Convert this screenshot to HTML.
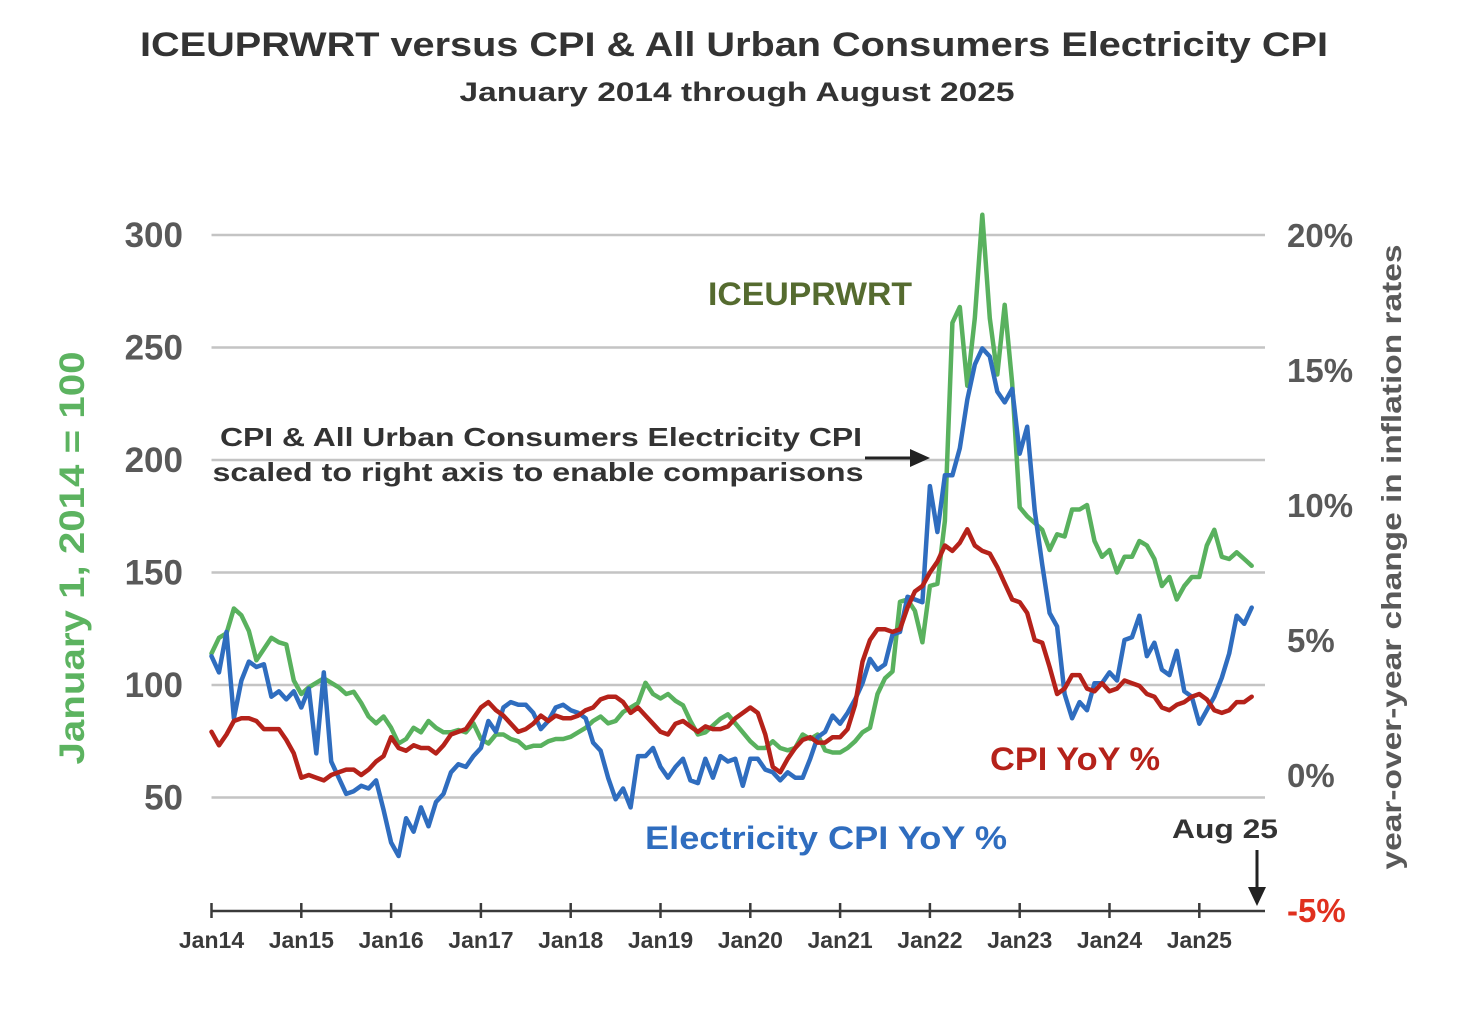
<!DOCTYPE html>
<html><head><meta charset="utf-8"><style>
html,body{margin:0;padding:0;background:#fff;}
svg{display:block;font-family:"Liberation Sans",sans-serif;}
</style></head><body>
<svg id="chart" width="1458" height="1036" viewBox="0 0 1458 1036" xmlns="http://www.w3.org/2000/svg">
<text x="734" y="56" text-anchor="middle" font-size="34" font-weight="bold" fill="#333" textLength="1188" lengthAdjust="spacingAndGlyphs">ICEUPRWRT versus CPI &amp; All Urban Consumers Electricity CPI</text>
<text x="737" y="101" text-anchor="middle" font-size="27" font-weight="bold" fill="#333" textLength="555" lengthAdjust="spacingAndGlyphs">January 2014  through August 2025</text>
<g id="grid"></g>
<g id="lticks"></g>
<g id="rticks"></g>
<g id="xaxis"></g>
<g id="series"></g>
<text transform="translate(84,558) rotate(-90)" text-anchor="middle" font-size="35" font-weight="bold" fill="#5cb360" textLength="413" lengthAdjust="spacingAndGlyphs">January 1, 2014 = 100</text>
<text transform="translate(1401,557) rotate(-90)" text-anchor="middle" font-size="28" font-weight="bold" fill="#595959" textLength="625" lengthAdjust="spacingAndGlyphs">year-over-year change in inflation rates</text>
<text x="810" y="305" text-anchor="middle" font-size="32" font-weight="bold" fill="#556b2f" textLength="204" lengthAdjust="spacingAndGlyphs">ICEUPRWRT</text>
<text x="1075" y="770" text-anchor="middle" font-size="32" font-weight="bold" fill="#b5221a" textLength="170" lengthAdjust="spacingAndGlyphs">CPI YoY %</text>
<text x="826" y="849" text-anchor="middle" font-size="32" font-weight="bold" fill="#2f6dbf" textLength="362" lengthAdjust="spacingAndGlyphs">Electricity CPI YoY %</text>
<text x="541" y="446" text-anchor="middle" font-size="26" font-weight="bold" fill="#333" textLength="642" lengthAdjust="spacingAndGlyphs">CPI &amp; All Urban Consumers Electricity CPI</text>
<text x="538" y="481" text-anchor="middle" font-size="26" font-weight="bold" fill="#333" textLength="651" lengthAdjust="spacingAndGlyphs">scaled to right axis to enable comparisons</text>
<g><line x1="865" y1="458" x2="912" y2="458" stroke="#222" stroke-width="3"/><polygon points="910,449 930,458 910,467" fill="#222"/></g>
<text x="1225" y="838" text-anchor="middle" font-size="27" font-weight="bold" fill="#333" textLength="106" lengthAdjust="spacingAndGlyphs">Aug 25</text>
<g><line x1="1257" y1="850" x2="1257" y2="890" stroke="#222" stroke-width="3"/><polygon points="1248,887 1266,887 1257,906" fill="#222"/></g>
</svg>
<script>
const leftTicks=[300,250,200,150,100,50];
const rightTicks=["20%","15%","10%","5%","0%","-5%"];
const rightTickVals=[20,15,10,5,0,-5];
const xLabels=["Jan14","Jan15","Jan16","Jan17","Jan18","Jan19","Jan20","Jan21","Jan22","Jan23","Jan24","Jan25"];
const iceValues=[114,121,123,134,131,124,111,116,121,119,118,102,
96,99,101,103,101,99,96,97,92,86,83,86,
81,74,76,81,79,84,81,79,79,80,79,83,
76,74,78,78,76,75,72,73,73,75,76,76,
77,79,81,84,86,83,84,88,90,92,101,96,
94,96,93,91,84,78,79,82,85,87,83,79,
75,72,72,75,72,71,72,78,76,78,71,70,
70,72,75,79,81,96,103,106,137,138,133,119,
144,145,173,261,268,233,263,309,263,238,269,234,
179,175,172,169,160,167,166,178,178,180,164,157,
160,150,157,157,164,162,156,144,148,138,144,148,
148,162,169,157,156,159,156,153];
const cpiYoY=[1.6,1.1,1.5,2.0,2.1,2.1,2.0,1.7,1.7,1.7,1.3,0.8,
-0.1,0.0,-0.1,-0.2,0.0,0.1,0.2,0.2,0.0,0.2,0.5,0.7,
1.4,1.0,0.9,1.1,1.0,1.0,0.8,1.1,1.5,1.6,1.7,2.1,
2.5,2.7,2.4,2.2,1.9,1.6,1.7,1.9,2.2,2.0,2.2,2.1,
2.1,2.2,2.4,2.5,2.8,2.9,2.9,2.7,2.3,2.5,2.2,1.9,
1.6,1.5,1.9,2.0,1.8,1.6,1.8,1.7,1.7,1.8,2.1,2.3,
2.5,2.3,1.5,0.3,0.1,0.6,1.0,1.3,1.4,1.2,1.2,1.4,
1.4,1.7,2.6,4.2,5.0,5.4,5.4,5.3,5.4,6.2,6.8,7.0,
7.5,7.9,8.5,8.3,8.6,9.1,8.5,8.3,8.2,7.7,7.1,6.5,
6.4,6.0,5.0,4.9,4.0,3.0,3.2,3.7,3.7,3.2,3.1,3.4,
3.1,3.2,3.5,3.4,3.3,3.0,2.9,2.5,2.4,2.6,2.7,2.9,
3.0,2.8,2.4,2.3,2.4,2.7,2.7,2.9];
const elecYoY=[4.4,3.8,5.3,2.1,3.5,4.2,4.0,4.1,2.9,3.1,2.8,3.1,
2.5,3.2,0.8,3.8,0.5,-0.1,-0.7,-0.6,-0.4,-0.5,-0.2,-1.3,
-2.5,-3.0,-1.6,-2.1,-1.2,-1.9,-1.0,-0.7,0.1,0.4,0.3,0.7,
1.0,2.0,1.6,2.5,2.7,2.6,2.6,2.3,1.7,2.0,2.5,2.6,
2.4,2.3,2.1,1.2,0.9,-0.1,-0.9,-0.5,-1.2,0.7,0.7,1.0,
0.3,-0.1,0.3,0.6,-0.2,-0.3,0.6,-0.1,0.7,0.5,0.6,-0.4,
0.6,0.6,0.2,0.1,-0.2,0.1,-0.1,-0.1,0.6,1.4,1.6,2.2,
1.9,2.3,2.8,3.4,4.3,3.9,4.1,5.2,5.3,6.6,6.5,6.4,
10.7,9.0,11.1,11.1,12.1,13.9,15.2,15.8,15.5,14.2,13.8,14.3,
11.9,12.9,9.8,7.8,6.0,5.5,3.0,2.1,2.7,2.4,3.4,3.4,
3.8,3.5,5.0,5.1,5.9,4.4,4.9,3.9,3.7,4.6,3.1,2.9,
1.9,2.4,2.9,3.6,4.5,5.9,5.6,6.2];

const NS="http://www.w3.org/2000/svg";
const X0=211.5, MONTH=89.8/12, XR=1265;
const xPos=i=>X0+i*MONTH;
const yL=v=>910-v*2.25;
const yR=p=>775-p*27;
function mk(tag,attrs,parent,text){const e=document.createElementNS(NS,tag);for(const k in attrs)e.setAttribute(k,attrs[k]);if(text!==undefined)e.textContent=text;parent.appendChild(e);return e;}
const grid=document.getElementById('grid'),lt=document.getElementById('lticks'),rt=document.getElementById('rticks'),xa=document.getElementById('xaxis'),sg=document.getElementById('series');
leftTicks.forEach(v=>{
  const l=mk('line',{x1:X0,x2:XR,y1:yL(v),y2:yL(v),stroke:'#c4c4c4','stroke-width':2.5},grid);
  
  
  const t=mk('text',{x:183,y:yL(v)+12,'text-anchor':'end','font-size':35,'font-weight':'bold',fill:'#595959'},lt,String(v));
  
  
});
rightTicks.forEach((s,k)=>{
  const t=mk('text',{x:1287,y:yR(rightTickVals[k])+12,'font-size':33,'font-weight':'bold',fill:rightTickVals[k]<0?'#e0301e':'#595959'},rt,s);
  
  
});
mk('line',{x1:X0,x2:XR,y1:911,y2:911,stroke:'#3a3a3a','stroke-width':2.5},xa);
xLabels.forEach((s,k)=>{
  const x=xPos(k*12);
  mk('line',{x1:x,x2:x,y1:903,y2:918,stroke:'#3a3a3a','stroke-width':2.5},xa);
  const t=mk('text',{x:x,y:948,'text-anchor':'middle','font-size':23,'font-weight':'bold',fill:'#3a3a3a'},xa,s);
  
  
});
function line(vals,yf,color,name){
  const d=vals.map((v,i)=>(i?'L':'M')+xPos(i).toFixed(1)+','+yf(v).toFixed(1)).join('');
  const p=mk('path',{d:d,fill:'none',stroke:color,'stroke-width':4.5,'stroke-linejoin':'round','stroke-linecap':'round'},sg);
  
  
}
line(iceValues,yL,'#59b15e','iceuprwrt-line');
line(elecYoY,yR,'#2f6dbf','electricity-cpi-line');
line(cpiYoY,yR,'#b5221a','cpi-line');
</script>
</body></html>
